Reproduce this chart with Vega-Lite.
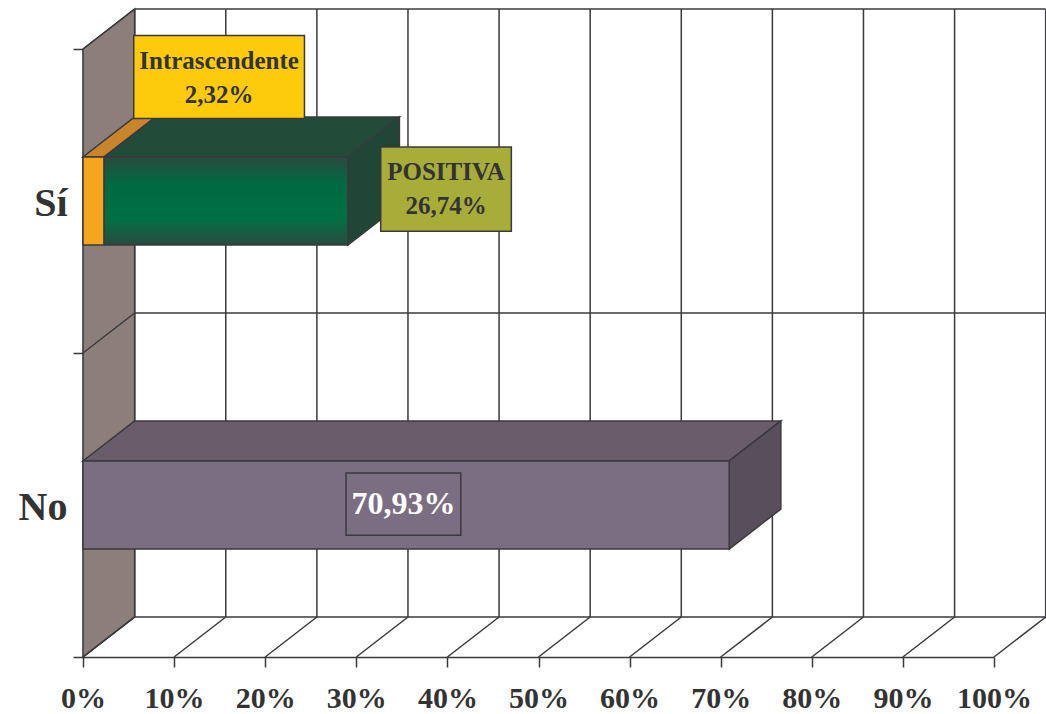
{
  "$schema": "https://vega.github.io/schema/vega-lite/v6.json",
  "width": 911,
  "height": 608,
  "autosize": {"type": "none"},
  "padding": {"left": 83, "top": 49, "right": 52, "bottom": 57},
  "background": "white",
  "config": {"view": {"stroke": null}},
  "datasets": {
    "respuestas": [
      {"categoria": "Sí", "respuesta": "Intrascendente", "porcentaje": 2.32},
      {"categoria": "Sí", "respuesta": "POSITIVA", "porcentaje": 26.74},
      {"categoria": "No", "respuesta": "No", "porcentaje": 70.93}
    ],
    "ticks": [{"t": 0}, {"t": 10}, {"t": 20}, {"t": 30}, {"t": 40}, {"t": 50}, {"t": 60}, {"t": 70}, {"t": 80}, {"t": 90}, {"t": 100}],
    "bandas": [{"b": 0}, {"b": 1}, {"b": 2}],
    "profundidad": [{"d": 0}, {"d": 1}]
  },
  "layer": [
    {
      "data": {"name": "profundidad"},
      "transform": [
        {"calculate": "datum.d * 5.673", "as": "wx"},
        {"calculate": "datum.d * 0.1316", "as": "wy"},
        {"calculate": "2 + datum.d * 0.1316", "as": "wy2"}
      ],
      "mark": {"type": "area", "orient": "vertical", "fill": "#8c7f7b", "stroke": "#3a3a3e", "strokeWidth": 1.5},
      "encoding": {
        "x": {
          "field": "wx", "type": "quantitative", "title": null,
          "scale": {"domain": [0, 100], "nice": false, "zero": false},
          "axis": {
            "values": [0, 10, 20, 30, 40, 50, 60, 70, 80, 90, 100],
            "labelExpr": "datum.value + '%'",
            "grid": false, "tickSize": 10, "tickColor": "#3a3a3e", "tickWidth": 1.5,
            "domainColor": "#3a3a3e", "domainWidth": 1.5,
            "labelFont": "Liberation Serif", "labelFontWeight": "bold", "labelFontSize": 30,
            "labelColor": "#333333", "labelPadding": 16, "labelFlush": false, "labelOverlap": false, "labelBound": false
          }
        },
        "y": {
          "field": "wy", "type": "quantitative", "title": null,
          "scale": {"domain": [0, 2], "nice": false, "zero": false},
          "axis": {
            "values": [0, 0.5, 1, 1.5, 2],
            "labelExpr": "datum.value == 0.5 ? 'No' : datum.value == 1.5 ? 'Sí' : ''",
            "grid": false, "tickSize": 10,
            "tickColor": {"condition": {"test": "datum.value % 1 != 0", "value": "transparent"}, "value": "#3a3a3e"},
            "tickWidth": 1.5, "domainColor": "#3a3a3e", "domainWidth": 1.5,
            "labelFont": "Liberation Serif", "labelFontWeight": "bold", "labelFontSize": 40,
            "labelColor": "#333333", "labelPadding": 6, "labelOffset": 2, "labelFlush": false, "labelOverlap": false, "labelBound": false
          }
        },
        "y2": {"field": "wy2"}
      }
    },
    {
      "data": {"name": "ticks"},
      "transform": [
        {"calculate": "datum.t + 5.673", "as": "gx"},
        {"calculate": "0.1316", "as": "gy"},
        {"calculate": "2.1316", "as": "gy2"}
      ],
      "mark": {"type": "rule", "color": "#3a3a3e", "strokeWidth": 1.5},
      "encoding": {
        "x": {"field": "gx", "type": "quantitative", "title": null, "scale": {"domain": [0, 100], "nice": false, "zero": false}},
        "y": {"field": "gy", "type": "quantitative", "title": null, "scale": {"domain": [0, 2], "nice": false, "zero": false}},
        "y2": {"field": "gy2"}
      }
    },
    {
      "data": {"name": "ticks"},
      "transform": [
        {"calculate": "datum.t + 5.673", "as": "fx2"},
        {"calculate": "0", "as": "fy"},
        {"calculate": "0.1316", "as": "fy2"}
      ],
      "mark": {"type": "rule", "color": "#3a3a3e", "strokeWidth": 1.5},
      "encoding": {
        "x": {"field": "t", "type": "quantitative", "title": null, "scale": {"domain": [0, 100], "nice": false, "zero": false}},
        "x2": {"field": "fx2"},
        "y": {"field": "fy", "type": "quantitative", "title": null, "scale": {"domain": [0, 2], "nice": false, "zero": false}},
        "y2": {"field": "fy2"}
      }
    },
    {
      "data": {"name": "bandas"},
      "transform": [
        {"calculate": "5.673", "as": "hx"},
        {"calculate": "105.673", "as": "hx2"},
        {"calculate": "datum.b + 0.1316", "as": "hy"}
      ],
      "mark": {"type": "rule", "color": "#3a3a3e", "strokeWidth": 1.5},
      "encoding": {
        "x": {"field": "hx", "type": "quantitative", "title": null, "scale": {"domain": [0, 100], "nice": false, "zero": false}},
        "x2": {"field": "hx2"},
        "y": {"field": "hy", "type": "quantitative", "title": null, "scale": {"domain": [0, 2], "nice": false, "zero": false}}
      }
    },
    {
      "data": {"name": "bandas"},
      "transform": [
        {"calculate": "0", "as": "lx"},
        {"calculate": "5.673", "as": "lx2"},
        {"calculate": "datum.b + 0.1316", "as": "ly2"}
      ],
      "mark": {"type": "rule", "color": "#3a3a3e", "strokeWidth": 1.5},
      "encoding": {
        "x": {"field": "lx", "type": "quantitative", "title": null, "scale": {"domain": [0, 100], "nice": false, "zero": false}},
        "x2": {"field": "lx2"},
        "y": {"field": "b", "type": "quantitative", "title": null, "scale": {"domain": [0, 2], "nice": false, "zero": false}},
        "y2": {"field": "ly2"}
      }
    },
    {
      "data": {"name": "respuestas"},
      "transform": [
        {"stack": "porcentaje", "groupby": ["categoria"], "sort": [{"field": "respuesta", "order": "ascending"}], "as": ["x0", "x1"]},
        {"calculate": "datum.categoria == 'Sí' ? 1.5 : 0.5", "as": "yc"},
        {"calculate": "datum.yc - 0.145", "as": "ya"},
        {"calculate": "datum.yc + 0.145", "as": "yb"},
        {"calculate": "0", "as": "frente"},
        {"calculate": "1", "as": "fondo"},
        {"fold": ["frente", "fondo"], "as": ["cara", "d"]},
        {"calculate": "datum.x0 + datum.d * 5.673", "as": "xa"},
        {"calculate": "datum.x1 + datum.d * 5.673", "as": "xb"},
        {"calculate": "datum.yb + datum.d * 0.1316", "as": "yt"}
      ],
      "mark": {"type": "area", "orient": "horizontal", "stroke": "#3a3a3e", "strokeWidth": 1.5, "strokeJoin": "miter"},
      "encoding": {
        "y": {"field": "yt", "type": "quantitative", "title": null, "scale": {"domain": [0, 2], "nice": false, "zero": false}},
        "x": {"field": "xa", "type": "quantitative", "title": null, "scale": {"domain": [0, 100], "nice": false, "zero": false}},
        "x2": {"field": "xb"},
        "detail": {"field": "respuesta", "type": "nominal"},
        "fill": {
          "condition": [
            {"test": "datum.respuesta == 'POSITIVA'", "value": "#224b3a"},
            {"test": "datum.respuesta == 'No'", "value": "#6a5c6b"}
          ],
          "value": "#c8852b"
        }
      }
    },
    {
      "data": {"name": "respuestas"},
      "transform": [
        {"stack": "porcentaje", "groupby": ["categoria"], "sort": [{"field": "respuesta", "order": "ascending"}], "as": ["x0", "x1"]},
        {"filter": "datum.respuesta != 'Intrascendente'"},
        {"calculate": "datum.categoria == 'Sí' ? 1.5 : 0.5", "as": "yc"},
        {"calculate": "datum.yc - 0.145", "as": "ya"},
        {"calculate": "datum.yc + 0.145", "as": "yb"},
        {"calculate": "0", "as": "frente"},
        {"calculate": "1", "as": "fondo"},
        {"fold": ["frente", "fondo"], "as": ["cara", "d"]},
        {"calculate": "datum.x1 + datum.d * 5.673", "as": "xs"},
        {"calculate": "datum.ya + datum.d * 0.1316", "as": "ys"},
        {"calculate": "datum.yb + datum.d * 0.1316", "as": "yt"}
      ],
      "mark": {"type": "area", "orient": "vertical", "stroke": "#3a3a3e", "strokeWidth": 1.5, "strokeJoin": "miter"},
      "encoding": {
        "x": {"field": "xs", "type": "quantitative", "title": null, "scale": {"domain": [0, 100], "nice": false, "zero": false}},
        "y": {"field": "ys", "type": "quantitative", "title": null, "scale": {"domain": [0, 2], "nice": false, "zero": false}},
        "y2": {"field": "yt"},
        "detail": {"field": "respuesta", "type": "nominal"},
        "fill": {
          "condition": [
            {"test": "datum.respuesta == 'POSITIVA'", "value": "#1f4637"}
          ],
          "value": "#594f5c"
        }
      }
    },
    {
      "data": {"name": "respuestas"},
      "transform": [
        {"stack": "porcentaje", "groupby": ["categoria"], "sort": [{"field": "respuesta", "order": "ascending"}], "as": ["x0", "x1"]},
        {"filter": "datum.respuesta != 'POSITIVA'"},
        {"calculate": "datum.categoria == 'Sí' ? 1.5 : 0.5", "as": "yc"},
        {"calculate": "datum.yc - 0.145", "as": "ya"},
        {"calculate": "datum.yc + 0.145", "as": "yb"}
      ],
      "mark": {"type": "rect", "stroke": "#3a3a3e", "strokeWidth": 1.5},
      "encoding": {
        "x": {"field": "x0", "type": "quantitative", "title": null, "scale": {"domain": [0, 100], "nice": false, "zero": false}},
        "x2": {"field": "x1"},
        "y": {"field": "ya", "type": "quantitative", "title": null, "scale": {"domain": [0, 2], "nice": false, "zero": false}},
        "y2": {"field": "yb"},
        "fill": {
          "condition": [
            {"test": "datum.respuesta == 'No'", "value": "#7b6e83"}
          ],
          "value": "#f5a51e"
        }
      }
    },
    {
      "data": {"name": "respuestas"},
      "transform": [
        {"stack": "porcentaje", "groupby": ["categoria"], "sort": [{"field": "respuesta", "order": "ascending"}], "as": ["x0", "x1"]},
        {"filter": "datum.respuesta == 'POSITIVA'"},
        {"calculate": "datum.categoria == 'Sí' ? 1.5 : 0.5", "as": "yc"},
        {"calculate": "datum.yc - 0.145", "as": "ya"},
        {"calculate": "datum.yc + 0.145", "as": "yb"}
      ],
      "mark": {
        "type": "rect", "stroke": "#3a3a3e", "strokeWidth": 1.5,
        "fill": {
          "gradient": "linear", "x1": 0, "y1": 0, "x2": 0, "y2": 1,
          "stops": [
            {"offset": 0, "color": "#2b4a3f"},
            {"offset": 0.3, "color": "#006a42"},
            {"offset": 0.7, "color": "#007043"},
            {"offset": 1, "color": "#2b4a3f"}
          ]
        }
      },
      "encoding": {
        "x": {"field": "x0", "type": "quantitative", "title": null, "scale": {"domain": [0, 100], "nice": false, "zero": false}},
        "x2": {"field": "x1"},
        "y": {"field": "ya", "type": "quantitative", "title": null, "scale": {"domain": [0, 2], "nice": false, "zero": false}},
        "y2": {"field": "yb"}
      }
    },
    {
      "data": {"name": "respuestas"},
      "transform": [
        {"calculate": "datum.respuesta == 'Intrascendente' ? 14.94 : datum.respuesta == 'POSITIVA' ? 39.85 : 35.17", "as": "cx"},
        {"calculate": "datum.respuesta == 'Intrascendente' ? 1.908 : datum.respuesta == 'POSITIVA' ? 1.539 : 0.503", "as": "cy"},
        {"calculate": "datum.respuesta == 'Intrascendente' ? 9.37 : datum.respuesta == 'POSITIVA' ? 7.17 : 6.30", "as": "hw"},
        {"calculate": "datum.respuesta == 'Intrascendente' ? 0.1365 : datum.respuesta == 'POSITIVA' ? 0.1385 : 0.1025", "as": "hh"},
        {"calculate": "datum.cx - datum.hw", "as": "bx0"},
        {"calculate": "datum.cx + datum.hw", "as": "bx1"},
        {"calculate": "datum.cy - datum.hh", "as": "by0"},
        {"calculate": "datum.cy + datum.hh", "as": "by1"}
      ],
      "mark": {"type": "rect", "stroke": "#3a3a3e", "strokeWidth": 1.5},
      "encoding": {
        "x": {"field": "bx0", "type": "quantitative", "title": null, "scale": {"domain": [0, 100], "nice": false, "zero": false}},
        "x2": {"field": "bx1"},
        "y": {"field": "by0", "type": "quantitative", "title": null, "scale": {"domain": [0, 2], "nice": false, "zero": false}},
        "y2": {"field": "by1"},
        "fill": {
          "condition": [
            {"test": "datum.respuesta == 'Intrascendente'", "value": "#fdcb0b"},
            {"test": "datum.respuesta == 'POSITIVA'", "value": "#a8ad3a"}
          ],
          "value": "#7b6e83"
        }
      }
    },
    {
      "data": {"name": "respuestas"},
      "transform": [
        {"calculate": "datum.respuesta == 'Intrascendente' ? 14.94 : datum.respuesta == 'POSITIVA' ? 39.85 : 35.17", "as": "cx"},
        {"calculate": "datum.respuesta == 'Intrascendente' ? 1.962 : datum.respuesta == 'POSITIVA' ? 1.595 : 0.503", "as": "cy"},
        {"calculate": "replace(format(datum.porcentaje, '.2f'), '.', ',') + '%'", "as": "pct"},
        {"calculate": "datum.respuesta == 'No' ? datum.pct : datum.respuesta + '\\n' + datum.pct", "as": "etiqueta"}
      ],
      "mark": {"type": "text", "font": "Liberation Serif", "fontWeight": "bold", "align": "center", "baseline": "middle", "lineBreak": "\n", "lineHeight": 34},
      "encoding": {
        "x": {"field": "cx", "type": "quantitative", "title": null, "scale": {"domain": [0, 100], "nice": false, "zero": false}},
        "y": {"field": "cy", "type": "quantitative", "title": null, "scale": {"domain": [0, 2], "nice": false, "zero": false}},
        "text": {"field": "etiqueta"},
        "size": {"condition": {"test": "datum.respuesta == 'No'", "value": 32}, "value": 25},
        "color": {"condition": {"test": "datum.respuesta == 'No'", "value": "#ffffff"}, "value": "#333333"}
      }
    }
  ]
}
